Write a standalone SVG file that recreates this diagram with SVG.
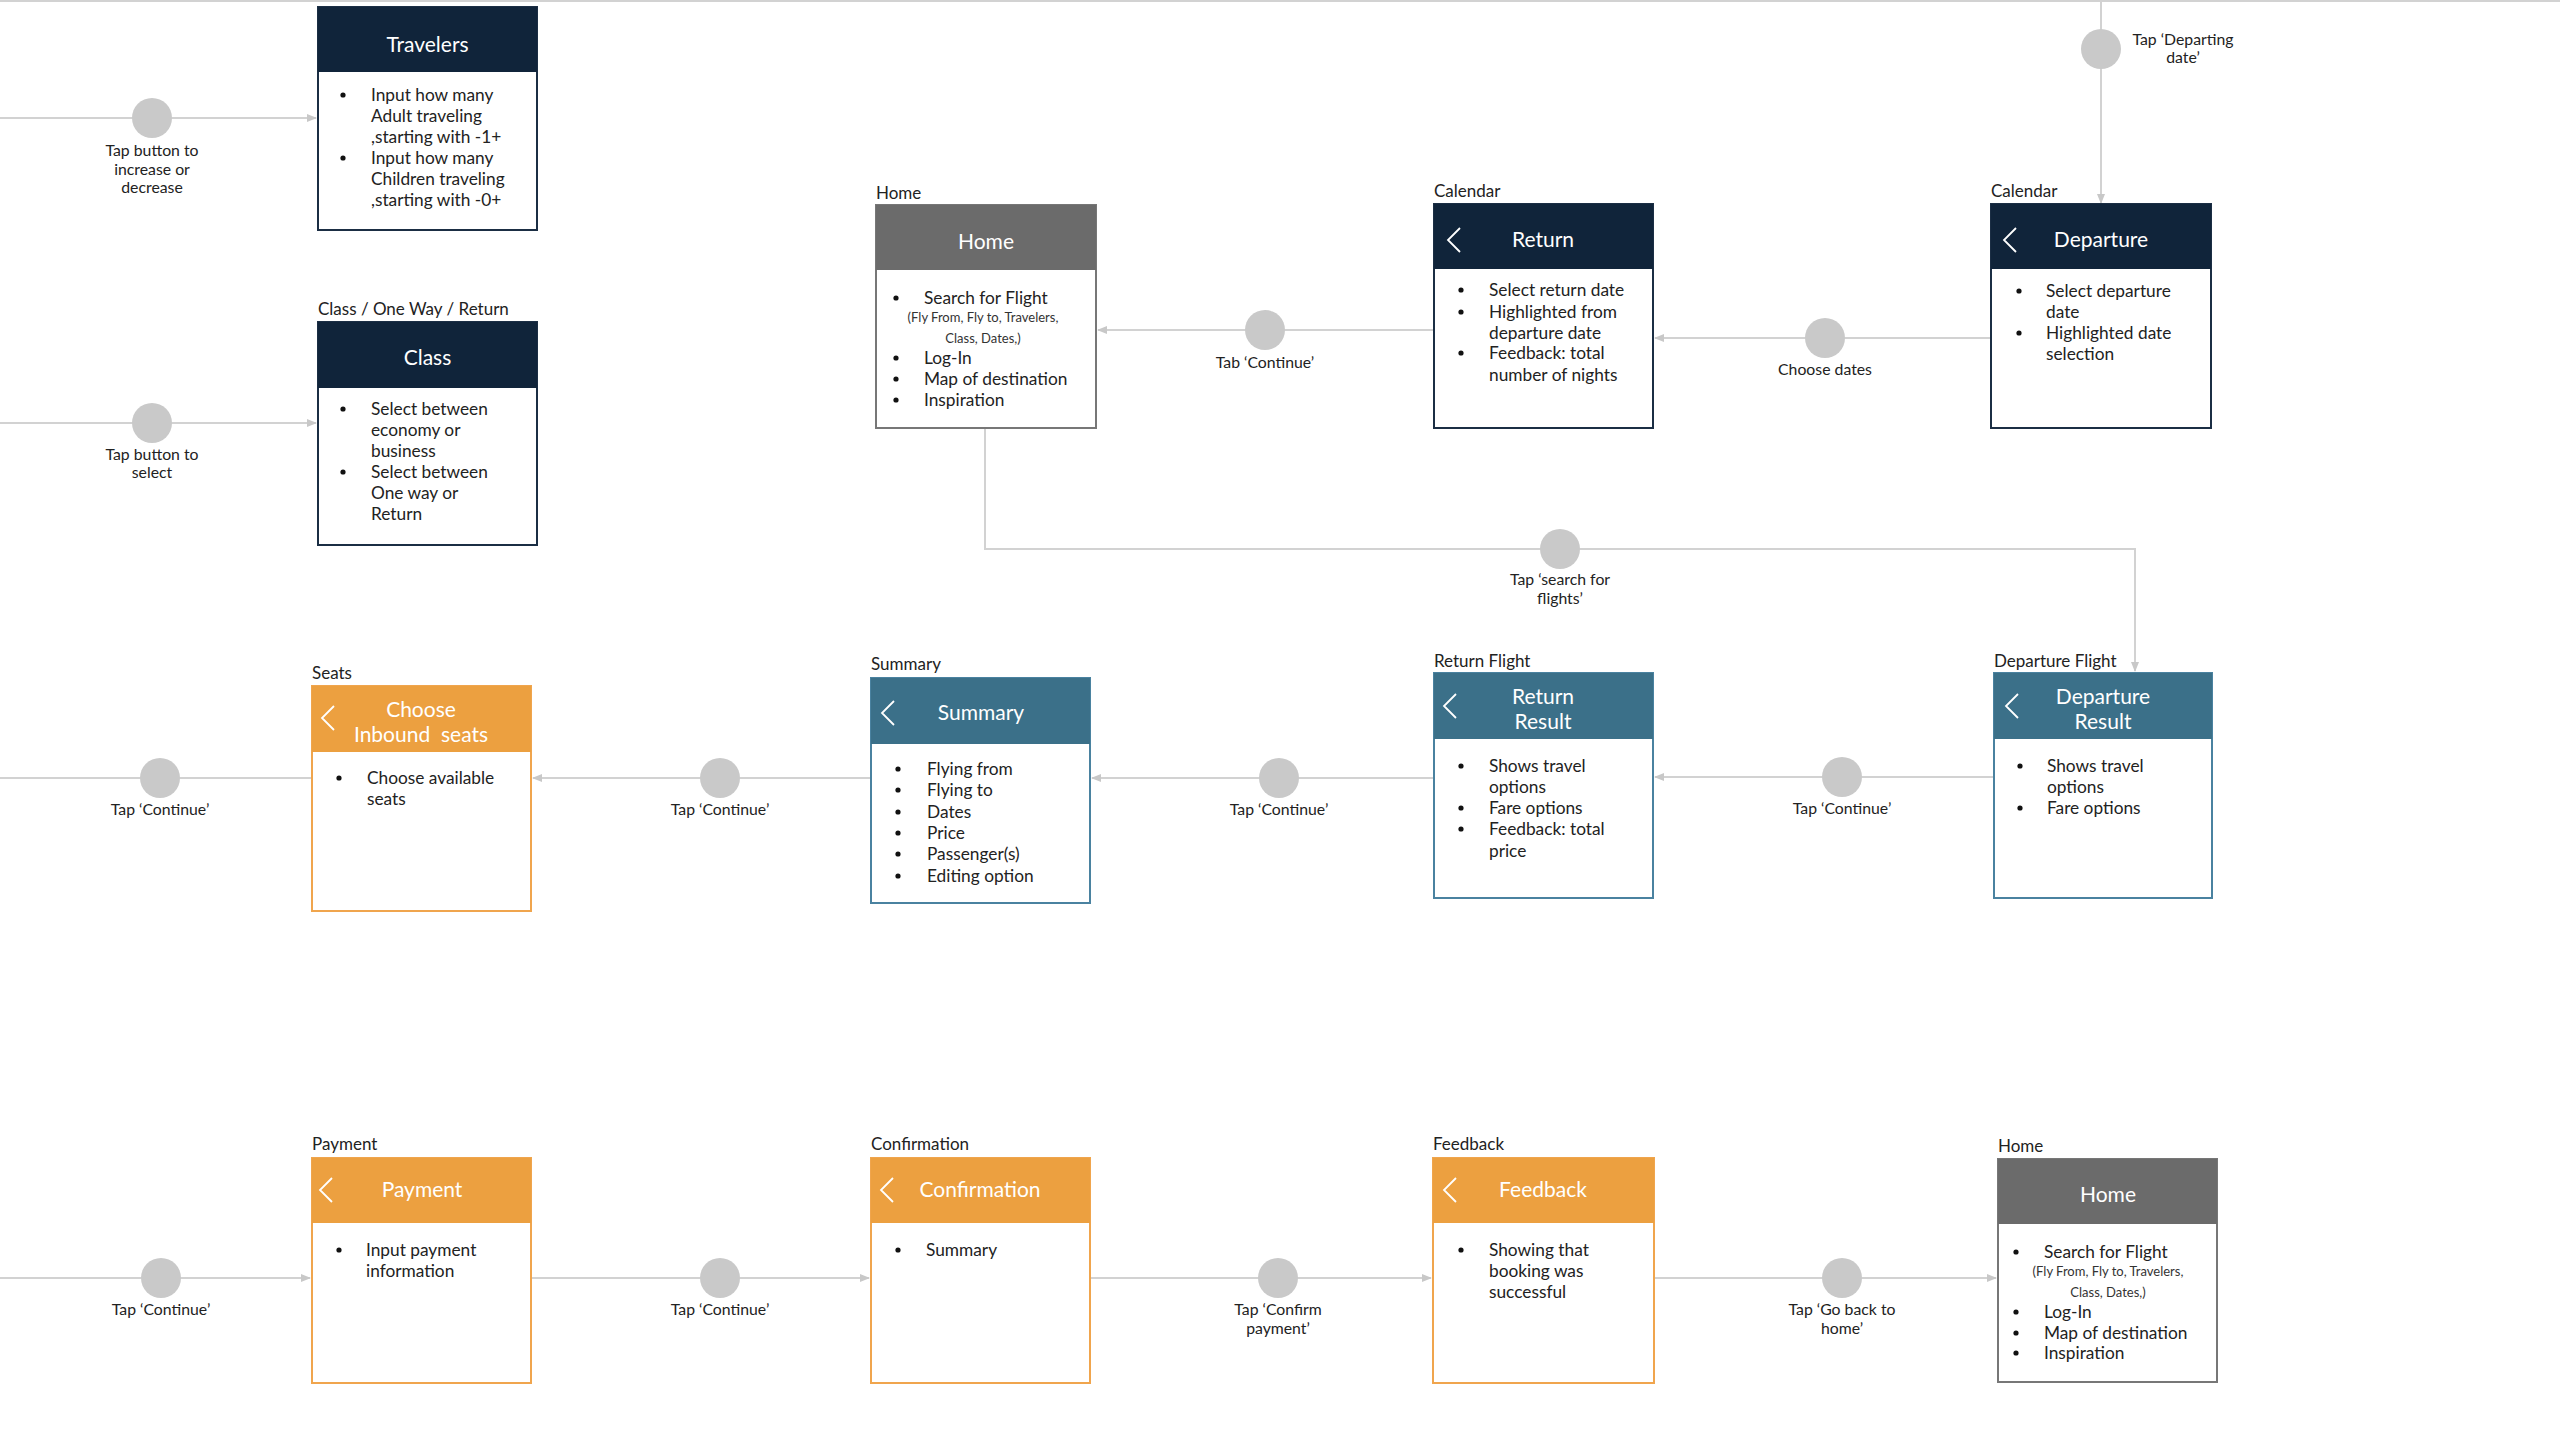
<svg xmlns="http://www.w3.org/2000/svg" xmlns:xlink="http://www.w3.org/1999/xlink" width="2560" height="1449" viewBox="0 0 2560 1449">
<style>
text{font-family:Lato,"Open Sans","Liberation Sans",sans-serif;}
.lbl{font-size:17px;fill:#222;}
.ttl{font-size:21px;fill:#fff;text-anchor:middle;}
.txt{font-size:17.3px;fill:#222;}
.sub{font-size:13px;fill:#333;text-anchor:middle;}
.cl{font-size:15.8px;fill:#222;text-anchor:middle;}
.bul{fill:#111;}
.navy{fill:#10243a;}
.gray{fill:#6b6b6b;}
.teal{fill:#3b7089;}
.orng{fill:#eca040;}
.bnavy{fill:#fff;stroke:#1b2e44;stroke-width:2;}
.bgray{fill:#fff;stroke:#777;stroke-width:2;}
.bteal{fill:#fff;stroke:#4a82a0;stroke-width:2;}
.borng{fill:#fff;stroke:#f0a54d;stroke-width:2;}
.con{fill:none;stroke:#d2d2d2;stroke-width:2;}
.dot{fill:#c9c9c9;}
.chev{fill:none;stroke:#fff;stroke-width:1.8;}
</style>
<defs>
<marker id="arr" viewBox="0 0 10 10" refX="9" refY="5" markerWidth="10" markerHeight="10" markerUnits="userSpaceOnUse" orient="auto">
<path d="M0,1 L10,5 L0,9 Z" fill="#c8c8c8"/>
</marker>
<polyline id="chev" class="chev" points="12,-12 0,0 12,12"/>
</defs>
<rect width="2560" height="1449" fill="#fff"/>

<g id="connectors">
<line class="con" x1="0" y1="1" x2="2560" y2="1"/>
<line class="con" x1="0" y1="118" x2="316" y2="118" marker-end="url(#arr)"/>
<circle class="dot" cx="152" cy="118" r="20"/>
<text class="cl" x="152" y="156">Tap button to</text>
<text class="cl" x="152" y="175">increase or</text>
<text class="cl" x="152" y="193">decrease</text>

<line class="con" x1="0" y1="423" x2="316" y2="423" marker-end="url(#arr)"/>
<circle class="dot" cx="152" cy="423" r="20"/>
<text class="cl" x="152" y="460">Tap button to</text>
<text class="cl" x="152" y="478">select</text>

<line class="con" x1="2101" y1="0" x2="2101" y2="203" marker-end="url(#arr)"/>
<circle class="dot" cx="2101" cy="49" r="20"/>
<text class="cl" x="2183" y="45">Tap ‘Departing</text>
<text class="cl" x="2183" y="63">date’</text>

<line class="con" x1="1991" y1="338" x2="1655" y2="338" marker-end="url(#arr)"/>
<circle class="dot" cx="1825" cy="338" r="20"/>
<text class="cl" x="1825" y="375">Choose dates</text>

<line class="con" x1="1434" y1="330" x2="1098" y2="330" marker-end="url(#arr)"/>
<circle class="dot" cx="1265" cy="330" r="20"/>
<text class="cl" x="1265" y="368">Tab ‘Continue’</text>

<polyline class="con" points="985,428 985,549 2135,549 2135,671" marker-end="url(#arr)"/>
<circle class="dot" cx="1560" cy="549" r="20"/>
<text class="cl" x="1560" y="585">Tap ‘search for</text>
<text class="cl" x="1560" y="604">flights’</text>

<line class="con" x1="1994" y1="777" x2="1655" y2="777" marker-end="url(#arr)"/>
<circle class="dot" cx="1842" cy="777" r="20"/>
<text class="cl" x="1842" y="814">Tap ‘Continue’</text>

<line class="con" x1="1434" y1="778" x2="1092" y2="778" marker-end="url(#arr)"/>
<circle class="dot" cx="1279" cy="778" r="20"/>
<text class="cl" x="1279" y="815">Tap ‘Continue’</text>

<line class="con" x1="871" y1="778" x2="533" y2="778" marker-end="url(#arr)"/>
<circle class="dot" cx="720" cy="778" r="20"/>
<text class="cl" x="720" y="815">Tap ‘Continue’</text>

<line class="con" x1="312" y1="778" x2="0" y2="778"/>
<circle class="dot" cx="160" cy="778" r="20"/>
<text class="cl" x="160" y="815">Tap ‘Continue’</text>

<line class="con" x1="0" y1="1278" x2="310" y2="1278" marker-end="url(#arr)"/>
<circle class="dot" cx="161" cy="1278" r="20"/>
<text class="cl" x="161" y="1315">Tap ‘Continue’</text>

<line class="con" x1="531" y1="1278" x2="869" y2="1278" marker-end="url(#arr)"/>
<circle class="dot" cx="720" cy="1278" r="20"/>
<text class="cl" x="720" y="1315">Tap ‘Continue’</text>

<line class="con" x1="1090" y1="1278" x2="1431" y2="1278" marker-end="url(#arr)"/>
<circle class="dot" cx="1278" cy="1278" r="20"/>
<text class="cl" x="1278" y="1315">Tap ‘Confirm</text>
<text class="cl" x="1278" y="1334">payment’</text>

<line class="con" x1="1654" y1="1278" x2="1996" y2="1278" marker-end="url(#arr)"/>
<circle class="dot" cx="1842" cy="1278" r="20"/>
<text class="cl" x="1842" y="1315">Tap ‘Go back to</text>
<text class="cl" x="1842" y="1334">home’</text>
</g>

<g id="n-travelers">
<rect class="bnavy" x="318" y="7" width="219" height="223"/>
<rect class="navy" x="318" y="7" width="219" height="65"/>
<text class="ttl" x="427.5" y="52">Travelers</text>
<circle class="bul" cx="343" cy="95" r="2.6"/>
<circle class="bul" cx="343" cy="158" r="2.6"/>
<text class="txt" x="371" y="101">Input how many</text>
<text class="txt" x="371" y="122">Adult traveling</text>
<text class="txt" x="371" y="143">,starting with -1+</text>
<text class="txt" x="371" y="164">Input how many</text>
<text class="txt" x="371" y="185">Children traveling</text>
<text class="txt" x="371" y="206">,starting with -0+</text>
</g>

<g id="n-class">
<text class="lbl" x="318" y="315">Class / One Way / Return</text>
<rect class="bnavy" x="318" y="322" width="219" height="223"/>
<rect class="navy" x="318" y="322" width="219" height="66"/>
<text class="ttl" x="427.5" y="365">Class</text>
<circle class="bul" cx="343" cy="409" r="2.6"/>
<circle class="bul" cx="343" cy="472" r="2.6"/>
<text class="txt" x="371" y="415">Select between</text>
<text class="txt" x="371" y="436">economy or</text>
<text class="txt" x="371" y="457">business</text>
<text class="txt" x="371" y="478">Select between</text>
<text class="txt" x="371" y="499">One way or</text>
<text class="txt" x="371" y="520">Return</text>
</g>

<g id="n-home-top">
<text class="lbl" x="876" y="199">Home</text>
<rect class="bgray" x="876" y="205" width="220" height="223"/>
<rect class="gray" x="876" y="205" width="220" height="65"/>
<text class="ttl" x="986" y="249">Home</text>
<circle class="bul" cx="896" cy="298" r="2.6"/>
<circle class="bul" cx="896" cy="358" r="2.6"/>
<circle class="bul" cx="896" cy="379" r="2.6"/>
<circle class="bul" cx="896" cy="400" r="2.6"/>
<text class="txt" x="924" y="304">Search for Flight</text>
<text class="sub" x="983" y="322">(Fly From, Fly to, Travelers,</text>
<text class="sub" x="983" y="343">Class, Dates,)</text>
<text class="txt" x="924" y="364">Log-In</text>
<text class="txt" x="924" y="385">Map of destination</text>
<text class="txt" x="924" y="406">Inspiration</text>
</g>

<g id="n-return-cal">
<text class="lbl" x="1434" y="197">Calendar</text>
<rect class="bnavy" x="1434" y="204" width="219" height="224"/>
<rect class="navy" x="1434" y="204" width="219" height="65"/>
<use xlink:href="#chev" x="1448" y="240"/>
<text class="ttl" x="1543" y="247">Return</text>
<circle class="bul" cx="1461" cy="290" r="2.6"/>
<circle class="bul" cx="1461" cy="312" r="2.6"/>
<circle class="bul" cx="1461" cy="353" r="2.6"/>
<text class="txt" x="1489" y="296">Select return date</text>
<text class="txt" x="1489" y="318">Highlighted from</text>
<text class="txt" x="1489" y="339">departure date</text>
<text class="txt" x="1489" y="359">Feedback: total</text>
<text class="txt" x="1489" y="381">number of nights</text>
</g>

<g id="n-departure-cal">
<text class="lbl" x="1991" y="197">Calendar</text>
<rect class="bnavy" x="1991" y="204" width="220" height="224"/>
<rect class="navy" x="1991" y="204" width="220" height="65"/>
<use xlink:href="#chev" x="2004" y="240"/>
<text class="ttl" x="2101" y="247">Departure</text>
<circle class="bul" cx="2019" cy="291" r="2.6"/>
<circle class="bul" cx="2019" cy="333" r="2.6"/>
<text class="txt" x="2046" y="297">Select departure</text>
<text class="txt" x="2046" y="318">date</text>
<text class="txt" x="2046" y="339">Highlighted date</text>
<text class="txt" x="2046" y="360">selection</text>
</g>

<g id="n-seats">
<text class="lbl" x="312" y="679">Seats</text>
<rect class="borng" x="312" y="686" width="219" height="225"/>
<rect class="orng" x="312" y="686" width="219" height="66"/>
<use xlink:href="#chev" x="322" y="718"/>
<text class="ttl" x="421" y="717">Choose</text>
<text class="ttl" x="421" y="742" xml:space="preserve">Inbound  seats</text>
<circle class="bul" cx="339" cy="778" r="2.6"/>
<text class="txt" x="367" y="784">Choose available</text>
<text class="txt" x="367" y="805">seats</text>
</g>

<g id="n-summary">
<text class="lbl" x="871" y="670">Summary</text>
<rect class="bteal" x="871" y="678" width="219" height="225"/>
<rect class="teal" x="871" y="678" width="219" height="66"/>
<use xlink:href="#chev" x="882" y="713"/>
<text class="ttl" x="981" y="720">Summary</text>
<circle class="bul" cx="898" cy="769" r="2.6"/>
<circle class="bul" cx="898" cy="790" r="2.6"/>
<circle class="bul" cx="898" cy="812" r="2.6"/>
<circle class="bul" cx="898" cy="833" r="2.6"/>
<circle class="bul" cx="898" cy="854" r="2.6"/>
<circle class="bul" cx="898" cy="876" r="2.6"/>
<text class="txt" x="927" y="775">Flying from</text>
<text class="txt" x="927" y="796">Flying to</text>
<text class="txt" x="927" y="818">Dates</text>
<text class="txt" x="927" y="839">Price</text>
<text class="txt" x="927" y="860">Passenger(s)</text>
<text class="txt" x="927" y="882">Editing option</text>
</g>

<g id="n-return-result">
<text class="lbl" x="1434" y="667">Return Flight</text>
<rect class="bteal" x="1434" y="673" width="219" height="225"/>
<rect class="teal" x="1434" y="673" width="219" height="66"/>
<use xlink:href="#chev" x="1444" y="706"/>
<text class="ttl" x="1543" y="704">Return</text>
<text class="ttl" x="1543" y="729">Result</text>
<circle class="bul" cx="1461" cy="766" r="2.6"/>
<circle class="bul" cx="1461" cy="808" r="2.6"/>
<circle class="bul" cx="1461" cy="829" r="2.6"/>
<text class="txt" x="1489" y="772">Shows travel</text>
<text class="txt" x="1489" y="793">options</text>
<text class="txt" x="1489" y="814">Fare options</text>
<text class="txt" x="1489" y="835">Feedback: total</text>
<text class="txt" x="1489" y="857">price</text>
</g>

<g id="n-departure-result">
<text class="lbl" x="1994" y="667">Departure Flight</text>
<rect class="bteal" x="1994" y="673" width="218" height="225"/>
<rect class="teal" x="1994" y="673" width="218" height="66"/>
<use xlink:href="#chev" x="2006" y="706"/>
<text class="ttl" x="2103" y="704">Departure</text>
<text class="ttl" x="2103" y="729">Result</text>
<circle class="bul" cx="2020" cy="766" r="2.6"/>
<circle class="bul" cx="2020" cy="808" r="2.6"/>
<text class="txt" x="2047" y="772">Shows travel</text>
<text class="txt" x="2047" y="793">options</text>
<text class="txt" x="2047" y="814">Fare options</text>
</g>

<g id="n-payment">
<text class="lbl" x="312" y="1150">Payment</text>
<rect class="borng" x="312" y="1158" width="219" height="225"/>
<rect class="orng" x="312" y="1158" width="219" height="65"/>
<use xlink:href="#chev" x="320" y="1190"/>
<text class="ttl" x="422" y="1197">Payment</text>
<circle class="bul" cx="339" cy="1250" r="2.6"/>
<text class="txt" x="366" y="1256">Input payment</text>
<text class="txt" x="366" y="1277">information</text>
</g>

<g id="n-confirmation">
<text class="lbl" x="871" y="1150">Confirmation</text>
<rect class="borng" x="871" y="1158" width="219" height="225"/>
<rect class="orng" x="871" y="1158" width="219" height="65"/>
<use xlink:href="#chev" x="881" y="1190"/>
<text class="ttl" x="980" y="1197">Confirmation</text>
<circle class="bul" cx="898" cy="1250" r="2.6"/>
<text class="txt" x="926" y="1256">Summary</text>
</g>

<g id="n-feedback">
<text class="lbl" x="1433" y="1150">Feedback</text>
<rect class="borng" x="1433" y="1158" width="221" height="225"/>
<rect class="orng" x="1433" y="1158" width="221" height="65"/>
<use xlink:href="#chev" x="1444" y="1190"/>
<text class="ttl" x="1543" y="1197">Feedback</text>
<circle class="bul" cx="1461" cy="1250" r="2.6"/>
<text class="txt" x="1489" y="1256">Showing that</text>
<text class="txt" x="1489" y="1277">booking was</text>
<text class="txt" x="1489" y="1298">successful</text>
</g>

<g id="n-home-bottom">
<text class="lbl" x="1998" y="1152">Home</text>
<rect class="bgray" x="1998" y="1159" width="219" height="223"/>
<rect class="gray" x="1998" y="1159" width="219" height="65"/>
<text class="ttl" x="2108" y="1202">Home</text>
<circle class="bul" cx="2016" cy="1252" r="2.6"/>
<circle class="bul" cx="2016" cy="1312" r="2.6"/>
<circle class="bul" cx="2016" cy="1333" r="2.6"/>
<circle class="bul" cx="2016" cy="1353" r="2.6"/>
<text class="txt" x="2044" y="1258">Search for Flight</text>
<text class="sub" x="2108" y="1276">(Fly From, Fly to, Travelers,</text>
<text class="sub" x="2108" y="1297">Class, Dates,)</text>
<text class="txt" x="2044" y="1318">Log-In</text>
<text class="txt" x="2044" y="1339">Map of destination</text>
<text class="txt" x="2044" y="1359">Inspiration</text>
</g>
</svg>
